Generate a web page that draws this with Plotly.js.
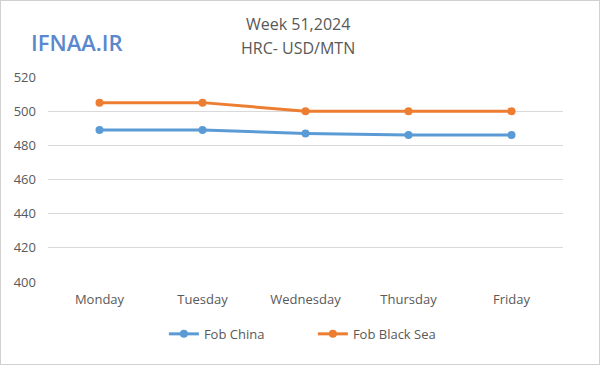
<!DOCTYPE html>
<html><head><meta charset="utf-8">
<script src="https://cdn.plot.ly/plotly-3.0.1.min.js"></script>
<style>
html,body{margin:0;padding:0;background:#fff;}
#wrap{width:600px;height:365px;box-sizing:border-box;border:1px solid #d0d0d0;overflow:hidden;}
#chart{width:598px;height:363px;}
</style></head>
<body><div id="wrap"><div id="chart"></div></div>
<script>
var days = ["Monday","Tuesday","Wednesday","Thursday","Friday"];
var fobChina = [489, 489, 487, 486, 486];
var fobBlackSea = [505, 505, 500, 500, 500];
var yTicks = [400, 420, 440, 460, 480, 500, 520];

var font = "'Open Sans', 'Liberation Sans', 'DejaVu Sans', sans-serif";
var traces = [
  {x: days, y: fobChina, name: "Fob China", type: "scatter", mode: "lines+markers",
   line: {color: "#5b9bd5", width: 3}, marker: {color: "#5b9bd5", size: 8}},
  {x: days, y: fobBlackSea, name: "Fob Black Sea", type: "scatter", mode: "lines+markers",
   line: {color: "#ed7d31", width: 3}, marker: {color: "#ed7d31", size: 8}}
];
var layout = {
  width: 598, height: 363,
  margin: {l: 47, r: 36, t: 76, b: 82},
  paper_bgcolor: "#fff", plot_bgcolor: "#fff",
  font: {family: font, size: 13, color: "#595959"},
  showlegend: true,
  legend: {orientation: "h", x: 0.225, xanchor: "left", y: -0.18, yanchor: "top",
           font: {size: 13, color: "#595959"}, itemwidth: 30,
           entrywidth: 104, entrywidthmode: "pixels"},
  xaxis: {type: "category", range: [-0.5, 4.5], showgrid: false, zeroline: false, showline: false,
          ticks: "", ticklabelstandoff: 8, tickfont: {size: 13, color: "#595959"}},
  yaxis: {range: [400, 520], tickvals: yTicks, ticktext: yTicks.map(String),
          showgrid: true, gridcolor: "#d9d9d9", gridwidth: 1, zeroline: false,
          showline: false, ticks: "", ticklabelstandoff: 11, tickfont: {size: 13, color: "#595959"}},
  annotations: [
    {text: "Week 51,2024", xref: "paper", yref: "paper", x: 0.485, y: 1, xanchor: "center",
     yshift: 66, showarrow: false, font: {size: 16, color: "#595959"}},
    {text: "HRC- USD/MTN", xref: "paper", yref: "paper", x: 0.485, y: 1, xanchor: "center",
     yshift: 42, showarrow: false, font: {size: 16, color: "#595959"}},
    {text: "IFNAA.IR", xref: "paper", yref: "paper", x: -0.037, y: 1, xanchor: "left",
     yshift: 52, showarrow: false, font: {size: 22, color: "#5b87cc", family: "'Open Sans', 'Liberation Sans', sans-serif", weight: 600}}
  ]
};
Plotly.newPlot("chart", traces, layout, {displayModeBar: false, staticPlot: true});
</script></body></html>
